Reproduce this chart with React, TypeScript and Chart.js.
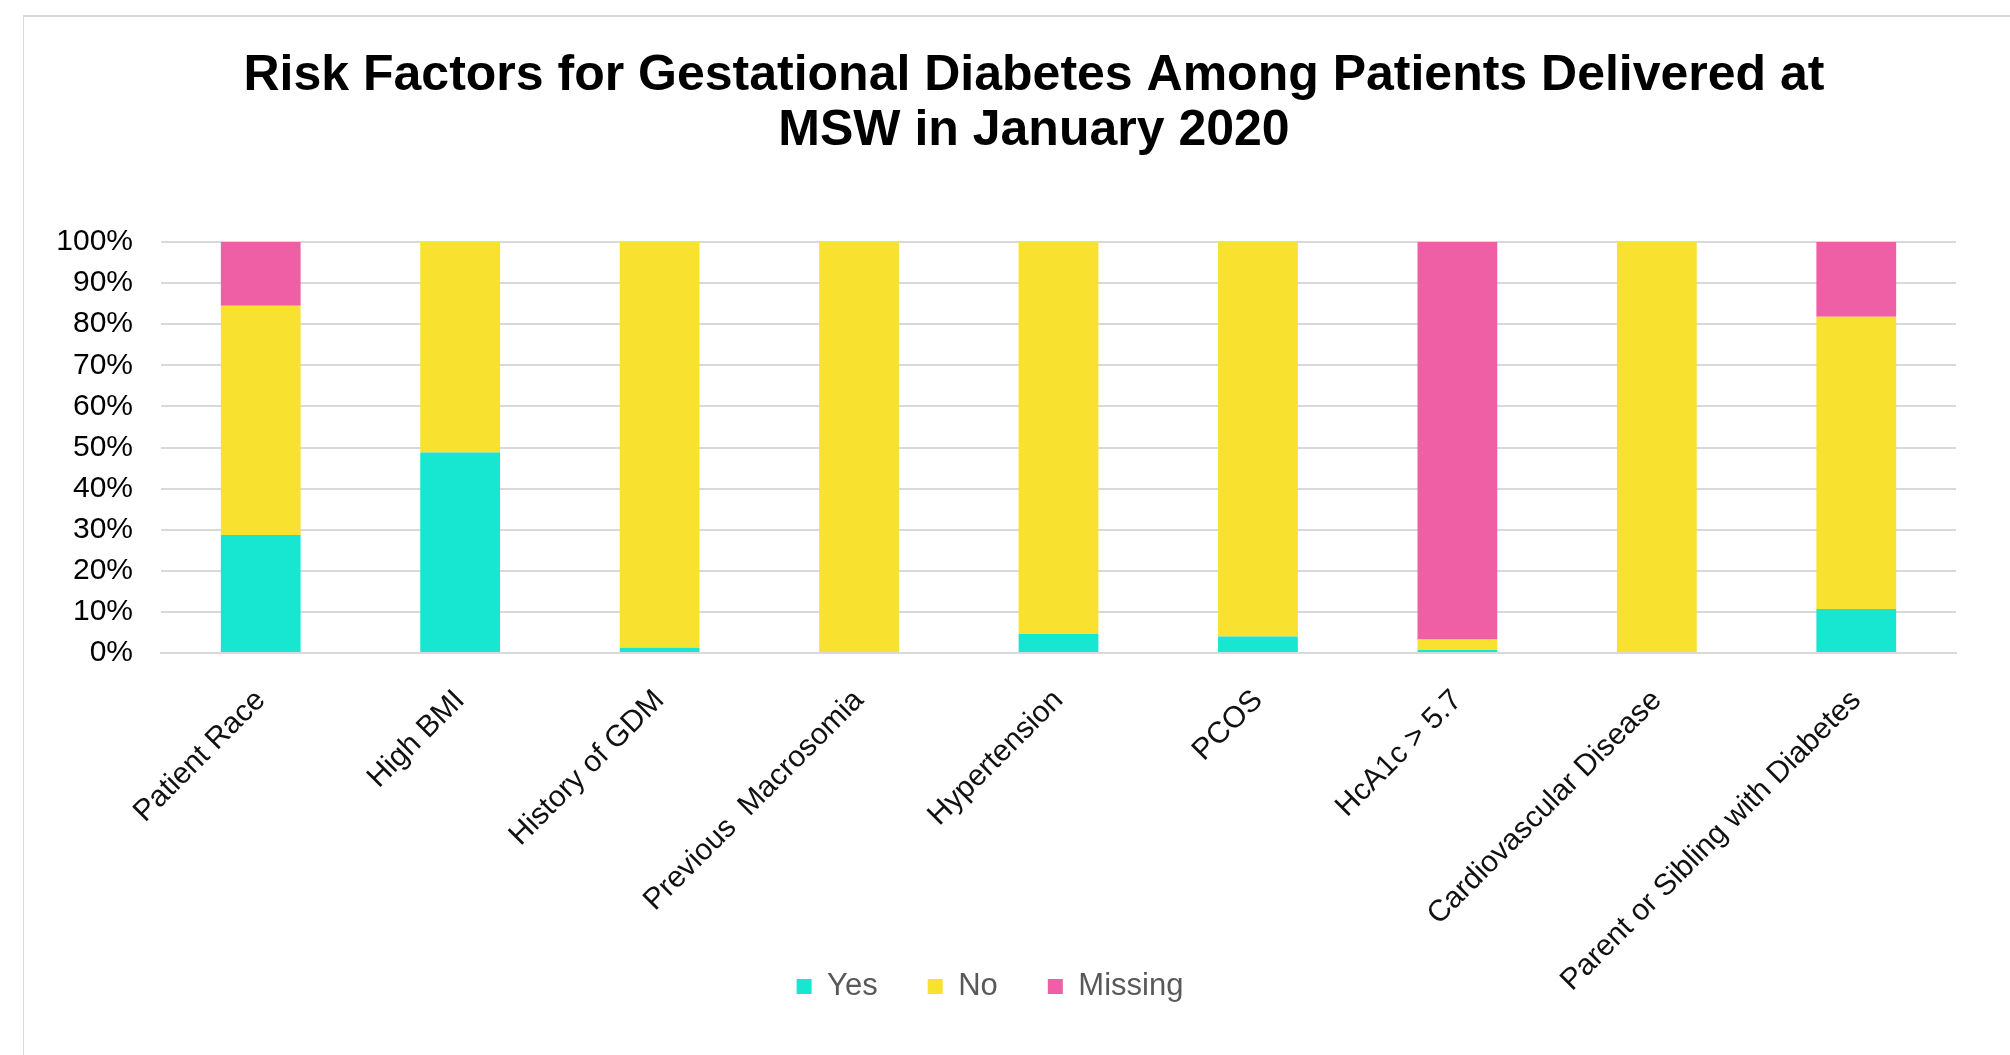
import React, { useEffect, useRef } from "react";
import { Chart, registerables } from "chart.js";

Chart.register(...registerables);

const categories = [
  "Patient Race",
  "High BMI",
  "History of GDM",
  "Previous  Macrosomia",
  "Hypertension",
  "PCOS",
  "HcA1c > 5.7",
  "Cardiovascular Disease",
  "Parent or Sibling with Diabetes",
];
const yesValues = [28.7, 48.8, 1.3, 0, 4.6, 4.0, 0.7, 0, 10.7];
const noValues = [55.8, 51.2, 98.7, 100, 95.4, 96.0, 2.6, 100, 71.1];
const missingValues = [15.5, 0, 0, 0, 0, 0, 96.7, 0, 18.2];
const seriesNames = ["Yes", "No", "Missing"];
const seriesColors = ["#17E6D0", "#F8E12F", "#EF5FA6"];
const titleLines = [
  "Risk Factors for Gestational Diabetes Among Patients Delivered at",
  "MSW in January 2020",
];

const W = 1986;
const H = 1038;
const TITLE_DX = 44;
const LEGEND_DX = 0;
const FONT = "'Liberation Sans', Arial, sans-serif";

const shiftPlugin = {
  id: "shiftBoxes",
  afterLayout(chart: any) {
    const t = chart.titleBlock;
    if (t) {
      t.left += TITLE_DX;
      t.right += TITLE_DX;
    }
    const l = chart.legend;
    if (l) {
      l.left += LEGEND_DX;
      l.right += LEGEND_DX;
    }
    const x = chart.scales.x;
    if (x) {
      x.bottom = chart.height;
    }
  },
};

export default function App() {
  const ref = useRef<HTMLCanvasElement | null>(null);
  useEffect(() => {
    document.body.style.overflow = "hidden";
    const canvas = ref.current;
    if (!canvas) return;
    const data = [yesValues, noValues, missingValues];
    const chart = new Chart(canvas, {
      type: "bar",
      data: {
        labels: categories,
        datasets: seriesNames.map((name, i) => ({
          label: name,
          data: data[i],
          backgroundColor: seriesColors[i],
          borderWidth: 0,
          categoryPercentage: 0.8,
          barPercentage: 0.5,
        })),
      },
      options: {
        responsive: false,
        animation: false,
        devicePixelRatio: 1,
        layout: { padding: { left: 0, right: 54, top: 0, bottom: 43 } },
        plugins: {
          tooltip: { enabled: false },
          title: {
            display: true,
            text: titleLines,
            color: "#000",
            font: { family: FONT, size: 50, weight: "bold", lineHeight: 1.1 },
            padding: { top: 32, bottom: 83 },
          },
          legend: {
            position: "bottom",
            labels: {
              boxWidth: 15,
              boxHeight: 15,
              padding: 50,
              color: "#595959",
              font: { family: FONT, size: 31 },
            },
          },
        },
        scales: {
          x: {
            stacked: true,
            grid: { display: false, drawTicks: false },
            border: { display: true, color: "#d9d9d9", width: 2 },
            ticks: {
              autoSkip: false,
              maxRotation: 45,
              minRotation: 45,
              padding: 30,
              color: "#111",
              font: { family: FONT, size: 30 },
            },
            afterFit: (scale: any) => {
              scale.height = 268;
            },
          },
          y: {
            stacked: true,
            min: 0,
            max: 100,
            grid: { color: "#d9d9d9", lineWidth: 2, drawTicks: false },
            border: { display: false },
            ticks: {
              stepSize: 10,
              padding: 28,
              color: "#000",
              font: { family: FONT, size: 30 },
              callback: (v: any) => v + "%",
            },
            afterFit: (scale: any) => {
              scale.width = 137;
            },
          },
        },
      },
      plugins: [shiftPlugin],
    });
    return () => chart.destroy();
  }, []);

  return (
    <div
      style={{
        position: "absolute",
        left: 23,
        top: 15,
        width: 1986,
        height: 1038,
        borderTop: "2px solid #d9d9d9",
        borderLeft: "1px solid #d9d9d9",
        background: "#fff",
      }}
    >
      <canvas ref={ref} width={W} height={H} style={{ display: "block" }} />
    </div>
  );
}
